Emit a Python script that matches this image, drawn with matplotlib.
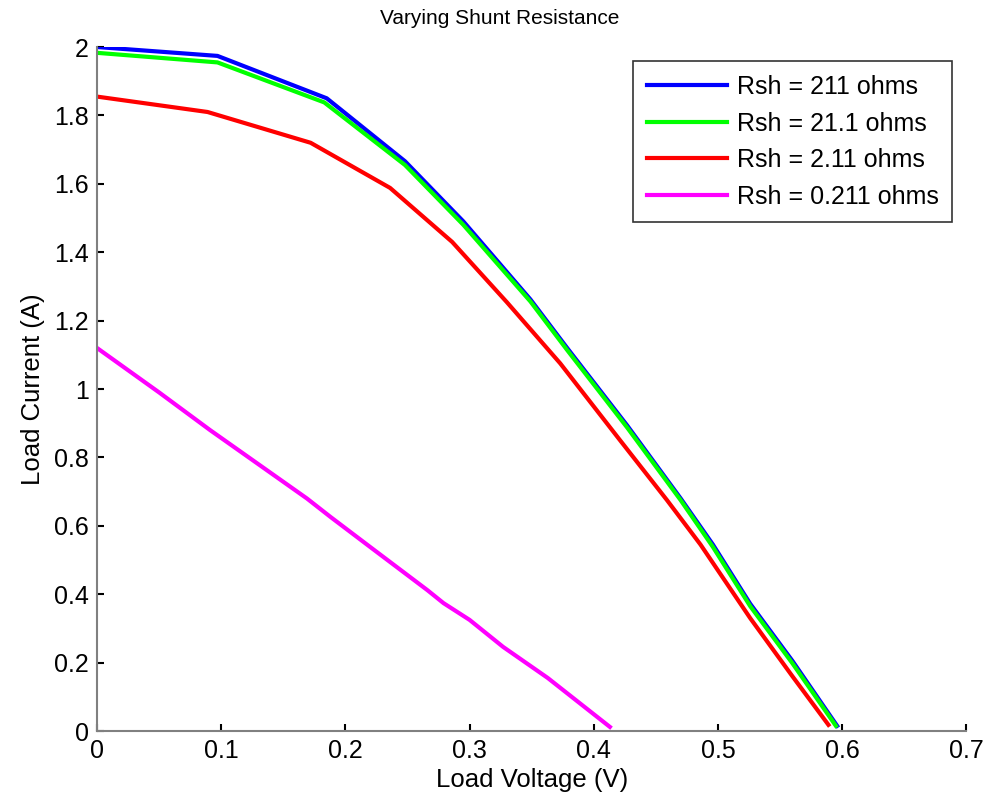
import numpy as np
import matplotlib.pyplot as plt

plt.rcParams['font.family'] = ['Liberation Sans', 'DejaVu Sans']

# Courbes I-V pour differentes resistances shunt
v_211 = [0.0, 0.097, 0.185, 0.248, 0.295, 0.349, 0.379, 0.427, 0.470, 0.496, 0.526, 0.560, 0.596]
i_211 = [2.000, 1.974, 1.850, 1.666, 1.490, 1.262, 1.118, 0.893, 0.680, 0.545, 0.372, 0.205, 0.015]

v_21 = [0.0, 0.097, 0.183, 0.248, 0.295, 0.349, 0.379, 0.427, 0.470, 0.496, 0.526, 0.560, 0.595]
i_21 = [1.983, 1.955, 1.838, 1.655, 1.480, 1.256, 1.112, 0.887, 0.675, 0.538, 0.365, 0.198, 0.015]

v_2 = [0.0, 0.089, 0.172, 0.236, 0.286, 0.330, 0.373, 0.421, 0.459, 0.486, 0.526, 0.560, 0.589]
i_2 = [1.855, 1.810, 1.720, 1.588, 1.430, 1.254, 1.075, 0.851, 0.675, 0.545, 0.330, 0.160, 0.018]

v_02 = [0.0, 0.05, 0.091, 0.130, 0.169, 0.188, 0.220, 0.266, 0.279, 0.300, 0.327, 0.363, 0.413]
i_02 = [1.120, 0.990, 0.880, 0.780, 0.680, 0.626, 0.538, 0.412, 0.374, 0.325, 0.246, 0.155, 0.012]

labels = ['Rsh = 211 ohms', 'Rsh = 21.1 ohms', 'Rsh = 2.11 ohms', 'Rsh = 0.211 ohms']
colors = ['#0000ff', '#00ff00', '#ff0000', '#ff00ff']

fig = plt.figure(figsize=(9.85, 8.05), dpi=100)
ax = fig.add_axes([0.0985, 0.0919, 0.8825, 0.8497])

for v, i, lab, c in zip([v_211, v_21, v_2, v_02], [i_211, i_21, i_2, i_02], labels, colors):
    ax.plot(v, i, color=c, linewidth=3, label=lab)

ax.set_xlim(0, 0.7)
ax.set_ylim(0, 2)
ax.set_xticks(np.arange(0, 0.71, 0.1))
ax.set_yticks(np.arange(0, 2.01, 0.2))
ax.set_xticklabels(['0', '0.1', '0.2', '0.3', '0.4', '0.5', '0.6', '0.7'])
ax.set_yticklabels(['0', '0.2', '0.4', '0.6', '0.8', '1', '1.2', '1.4', '1.6', '1.8', '2'])

ax.spines['top'].set_visible(False)
ax.spines['right'].set_visible(False)
ax.spines['left'].set_color('#808080')
ax.spines['bottom'].set_color('#808080')
ax.spines['left'].set_linewidth(1.5)
ax.spines['bottom'].set_linewidth(1.5)
ax.tick_params(direction='in', length=5, width=1.5, color='black', labelsize=18, pad=6)

ax.set_xlabel('Load Voltage (V)', fontsize=18.5, labelpad=3)
ax.set_ylabel('Load Current (A)', fontsize=18.5, labelpad=6)
fig.text(500 / 985, 1 - 19 / 805, 'Varying Shunt Resistance', fontsize=15, ha='center', va='center')

leg = ax.legend(loc='upper right', bbox_to_anchor=(0.984, 0.979), fontsize=18, frameon=True,
                fancybox=False, edgecolor='black', handlelength=3.2, borderpad=0.55,
                labelspacing=0.5, handletextpad=0.4, borderaxespad=0)
leg.get_frame().set_linewidth(1.2)

plt.savefig('out.png', dpi=100)
